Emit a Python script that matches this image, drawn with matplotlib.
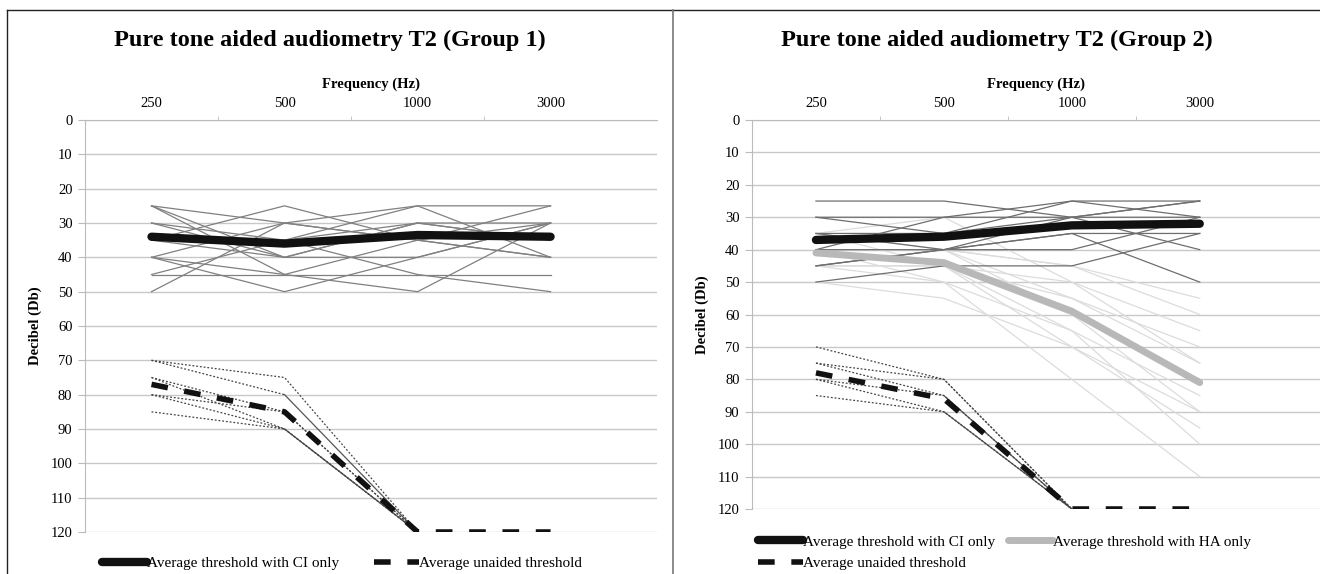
import numpy as np
import matplotlib
matplotlib.use("Agg")
import matplotlib.pyplot as plt
from matplotlib.lines import Line2D

plt.rcParams['font.family'] = ['Liberation Serif', 'DejaVu Serif']

# ---- data (dB HL) ----
freqs = ['250', '500', '1000', '3000']

# group 1, individual aided thresholds with CI
g1_ci = [
    [25, 40, 30, 35],
    [25, 45, 35, 40],
    [25, 30, 35, 25],
    [30, 35, 25, 25],
    [30, 40, 40, 30],
    [35, 25, 35, 40],
    [35, 40, 30, 30],
    [40, 50, 40, 30],
    [40, 30, 25, 40],
    [45, 35, 30, 35],
    [45, 45, 45, 45],
    [50, 30, 35, 30],
    [40, 45, 50, 30],
    [35, 35, 45, 50],
]
g1_ci_avg = [34, 36, 33.5, 34]

# group 1, individual unaided thresholds (no response at 3000)
g1_un = [
    [70, 75, 120, np.nan],
    [70, 80, 120, np.nan],
    [75, 85, 120, np.nan],
    [80, 90, 120, np.nan],
    [85, 90, 120, np.nan],
    [75, 90, 120, np.nan],
    [80, 85, 120, np.nan],
]
g1_un_solid = [False, True, False, True, False, False, False]
g1_un_avg = [77, 85, 120, 120]

# group 2
g2_ci = [
    [25, 25, 30, 30],
    [30, 30, 25, 30],
    [35, 35, 25, 25],
    [45, 40, 30, 25],
    [50, 45, 45, 35],
    [40, 30, 30, 40],
    [45, 40, 35, 35],
    [35, 40, 35, 50],
    [30, 35, 30, 25],
    [40, 40, 40, 30],
]
g2_ci_avg = [37, 36, 32.5, 32]

g2_ha = [
    [40, 40, 45, 55],
    [40, 45, 50, 65],
    [45, 45, 55, 70],
    [35, 40, 55, 75],
    [40, 45, 60, 80],
    [45, 50, 65, 85],
    [40, 40, 60, 90],
    [50, 55, 70, 95],
    [35, 30, 50, 75],
    [45, 45, 65, 100],
    [40, 50, 80, 110],
    [45, 40, 45, 60],
    [35, 45, 60, 80],
    [40, 45, 70, 90],
]
g2_ha_avg = [41, 44, 59, 81]

g2_un = [
    [70, 80, 120, np.nan],
    [75, 85, 120, np.nan],
    [80, 90, 120, np.nan],
    [85, 90, 120, np.nan],
    [75, 80, 120, np.nan],
    [80, 85, 120, np.nan],
]
g2_un_solid = [False, True, True, False, False, False]
g2_un_avg = [78, 86, 120, 120]

yticks = list(range(0, 121, 10))

W, H = 1320, 574
fig = plt.figure(figsize=(W / 100, H / 100), dpi=100)


def px_axes(x0, y0, x1, y1):
    return fig.add_axes([x0 / W, 1 - y1 / H, (x1 - x0) / W, (y1 - y0) / H])


def setup(ax, xmax):
    x = np.arange(len(freqs))
    ax.set_xlim(-0.5, xmax)
    ax.set_ylim(120, 0)
    ax.set_yticks(yticks)
    ax.set_yticklabels([str(v) for v in yticks], fontsize=10.5)
    ax.xaxis.tick_top()
    ax.set_xticks(x)
    ax.set_xticklabels(freqs, fontsize=10.5)
    ax.set_xticks(x[:-1] + 0.5, minor=True)
    ax.tick_params(axis='x', which='major', length=0, pad=7)
    ax.tick_params(axis='x', which='minor', length=3, color='#bbbbbb', direction='out')
    ax.tick_params(axis='y', length=5, color='#bbbbbb', pad=4)
    ax.grid(axis='y', color='#c8c8c8', lw=1)
    ax.set_axisbelow(True)
    for s in ['right', 'bottom']:
        ax.spines[s].set_visible(False)
    for s in ['left', 'top']:
        ax.spines[s].set_color('#bbbbbb')
    ax.set_ylabel('Decibel (Db)', fontsize=10.5, fontweight='bold', labelpad=6)
    ax.xaxis.set_label_position('top')
    ax.set_xlabel('Frequency (Hz)', fontsize=10.5, fontweight='bold', labelpad=7)


def draw_unaided(ax, rows, solid):
    x = np.arange(len(freqs))
    for r, s in zip(rows, solid):
        r = np.array(r, dtype=float)
        if s:
            ax.plot(x[:2], r[:2], color='#444444', lw=0.9, ls=(0, (1.5, 1.5)))
            ax.plot(x[1:], r[1:], color='#555555', lw=0.9)
        else:
            ax.plot(x, r, color='#444444', lw=0.9, ls=(0, (1.5, 1.5)))


leg_kw = dict(frameon=False, fontsize=11, handlelength=2.95, handletextpad=0.0,
              borderpad=0, borderaxespad=0)

# ---------- left panel ----------
ax1 = px_axes(85, 120, 657, 532)
setup(ax1, 3.8)
x = np.arange(len(freqs))
for r in g1_ci:
    ax1.plot(x, r, color='#808080', lw=0.9)
draw_unaided(ax1, g1_un, g1_un_solid)
h1, = ax1.plot(x, g1_ci_avg, color='#111111', lw=6, solid_capstyle='round',
               label='Average threshold with CI only')
h2, = ax1.plot(x, g1_un_avg, color='#111111', lw=4, ls=(0, (3, 3)),
               label='Average unaided threshold')
fig.text(330 / W, 1 - 40 / H, 'Pure tone aided audiometry T2 (Group 1)',
         ha='center', va='center', fontsize=17.5, fontweight='bold')
fig.legend(handles=[h1, h2], loc='center', bbox_to_anchor=(342 / W, 1 - 563 / H),
           ncol=2, columnspacing=2.3, **leg_kw)

# ---------- right panel ----------
ax2 = px_axes(752, 120, 1320, 509)
setup(ax2, 3.94)
for r in g2_ha:
    ax2.plot(x, r, color='#dcdcdc', lw=0.9)
for r in g2_ci:
    ax2.plot(x, r, color='#6e6e6e', lw=0.9)
draw_unaided(ax2, g2_un, g2_un_solid)
h3, = ax2.plot(x, g2_ha_avg, color='#b8b8b8', lw=5, solid_capstyle='round',
               label='Average threshold with HA only')
h4, = ax2.plot(x, g2_ci_avg, color='#111111', lw=6, solid_capstyle='round',
               label='Average threshold with CI only')
h5, = ax2.plot(x, g2_un_avg, color='#111111', lw=4, ls=(0, (3, 3)),
               label='Average unaided threshold')
fig.text(997 / W, 1 - 40 / H, 'Pure tone aided audiometry T2 (Group 2)',
         ha='center', va='center', fontsize=17.5, fontweight='bold')
fig.legend(handles=[h4, h5, h3], loc='upper left', bbox_to_anchor=(758 / W, 1 - 535 / H),
           ncol=2, columnspacing=0.85, labelspacing=0.5, **leg_kw)

# frame lines
fig.add_artist(Line2D([7 / W, 1], [1 - 10 / H, 1 - 10 / H], color='#222222', lw=1))
fig.add_artist(Line2D([7 / W, 7 / W], [0, 1 - 10 / H], color='#222222', lw=1))
fig.add_artist(Line2D([673 / W, 673 / W], [0, 1 - 10 / H], color='#777777', lw=1.2))

fig.savefig('out.png', dpi=100)
